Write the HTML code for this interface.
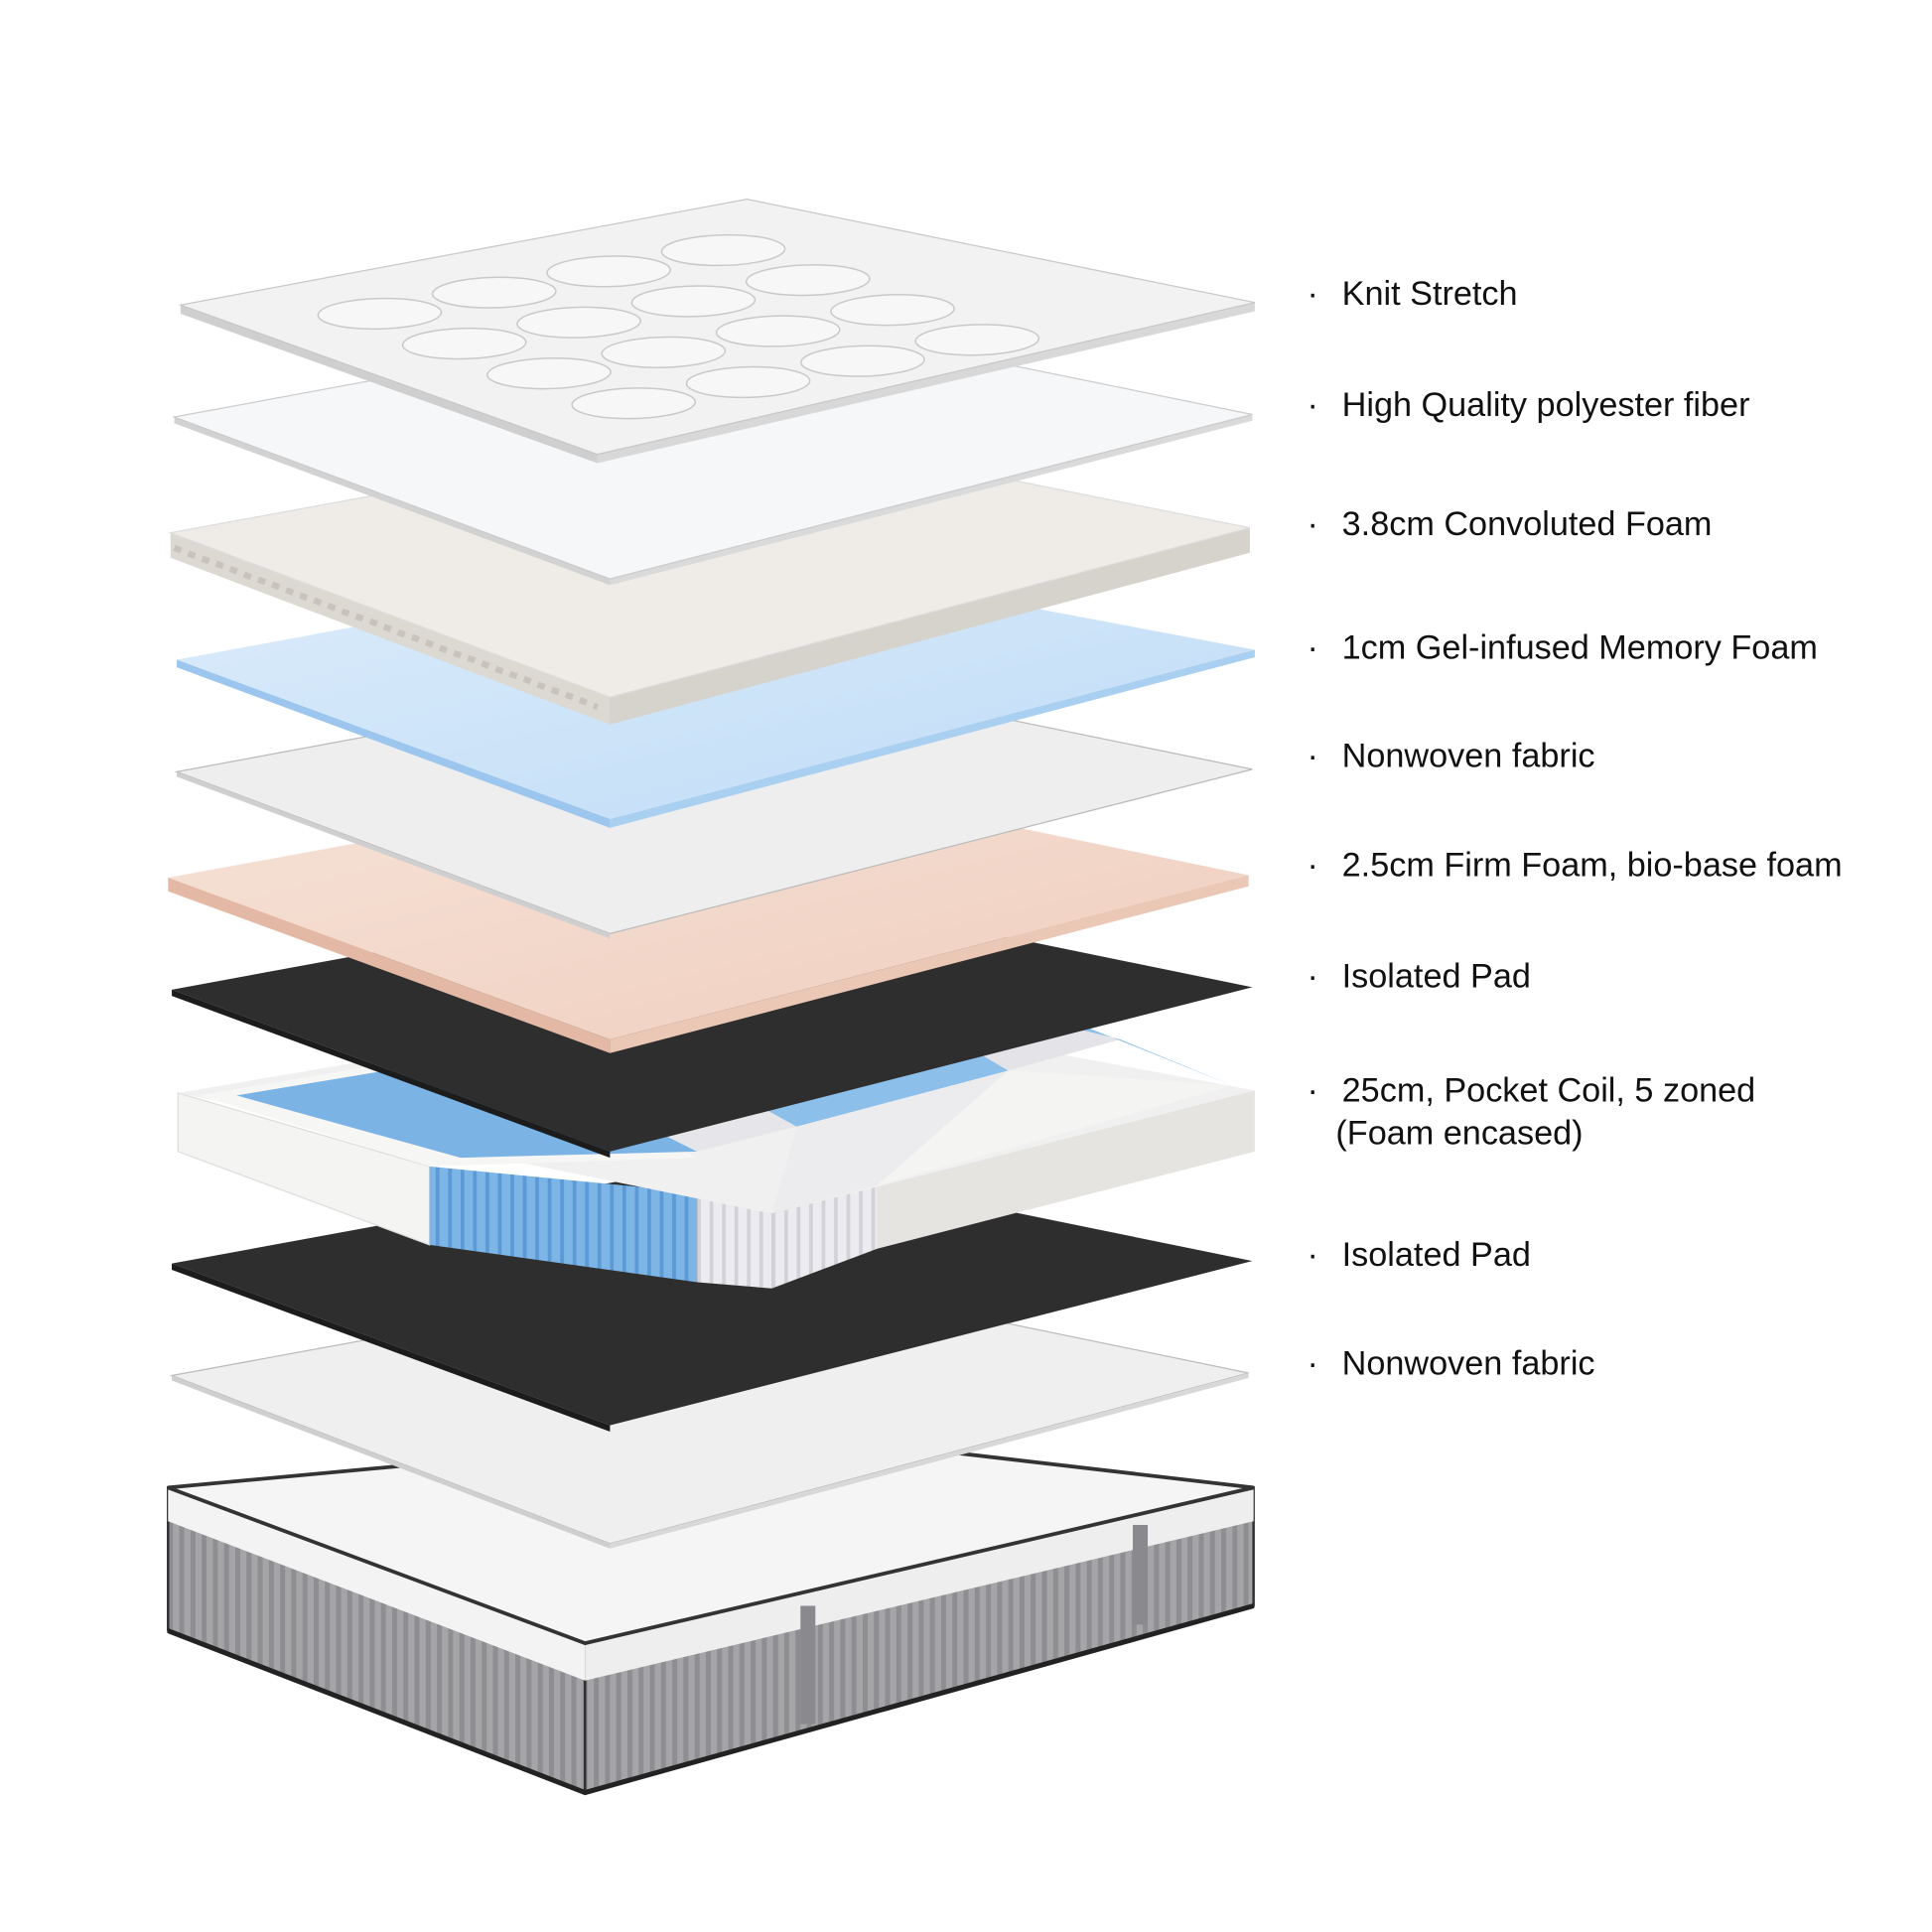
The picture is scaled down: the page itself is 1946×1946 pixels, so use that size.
<!DOCTYPE html>
<html><head><meta charset="utf-8">
<style>
html,body{margin:0;padding:0;background:#fff;}
svg{display:block;}
text{font-family:"Liberation Sans",sans-serif;font-size:27.3px;fill:#111;}
</style></head>
<body>
<svg width="1946" height="1946" viewBox="0 0 1552 1552" xmlns="http://www.w3.org/2000/svg">
<defs>
  <pattern id="stripes" width="9" height="10" patternUnits="userSpaceOnUse">
    <rect width="9" height="10" fill="#a5a5a8"/>
    <rect width="4" height="10" fill="#8e8e92"/>
  </pattern>
  <pattern id="coilb" width="10" height="10" patternUnits="userSpaceOnUse">
    <rect width="10" height="10" fill="#7db5e6"/>
    <rect width="3" height="10" fill="#5c9ad6"/>
  </pattern>
  <pattern id="coilw" width="10" height="10" patternUnits="userSpaceOnUse">
    <rect width="10" height="10" fill="#ececf0"/>
    <rect width="3" height="10" fill="#d2d2d8"/>
  </pattern>
  <linearGradient id="blueg" x1="0" y1="0" x2="1" y2="1">
    <stop offset="0" stop-color="#dcecfb"/><stop offset="1" stop-color="#bfdcf6"/>
  </linearGradient>
  <linearGradient id="firmg" x1="0" y1="0" x2="1" y2="1">
    <stop offset="0" stop-color="#f6e3d8"/><stop offset="1" stop-color="#efcdbd"/>
  </linearGradient>
</defs>

<!-- Base mattress -->
<g>
  <polygon points="135,1195 470,1320 470,1440 135,1310" fill="url(#stripes)" stroke="#333" stroke-width="2"/>
  <polygon points="470,1320 1007,1195 1007,1290 470,1440" fill="url(#stripes)" stroke="#333" stroke-width="2"/>
  <polygon points="135,1195 470,1320 470,1350 135,1222" fill="#f3f3f3"/>
  <polygon points="470,1320 1007,1195 1007,1222 470,1350" fill="#eeeeee"/>
  <polygon points="135,1195 620,1150 1007,1195 470,1320" fill="#f5f5f5" stroke="#333" stroke-width="3"/>
  <rect x="643" y="1290" width="12" height="95" fill="#8a8a8e"/>
  <rect x="910" y="1225" width="12" height="80" fill="#8a8a8e"/>
  <polyline points="135,1310 470,1440 1007,1290" fill="none" stroke="#222" stroke-width="4"/>
</g>

<!-- Layer 10 nonwoven bottom -->
<polygon points="138,1105 600,1020 1003,1103 490,1240" fill="#efefef" stroke="#bbb" stroke-width="1"/>
<polygon points="138,1105 490,1240 490,1244 138,1109" fill="#cfcfcf"/>
<polygon points="490,1240 1003,1103 1003,1107 490,1244" fill="#d8d8d8"/>

<!-- Layer 9 isolated pad -->
<polygon points="138,1015 600,930 1006,1013 490,1145" fill="#2e2e2e"/>
<polygon points="138,1015 490,1145 490,1150 138,1020" fill="#1c1c1c"/>

<!-- Layer 8 coil box: L(143,878) B(600,800) R(1008,876) F(620,975) -->
<g>
  <!-- left face: foam 143-345, then coils -->
  <polygon points="143,878 345,937 345,1000 143,925" fill="#f4f4f2" stroke="#ddd"/>
  <polygon points="345,937 560,958 560,1030 345,1000" fill="url(#coilb)"/>
  <polygon points="560,958 620,975 620,1035 560,1030" fill="url(#coilw)"/>
  <!-- right face: coils 620-705, then foam -->
  <polygon points="620,975 705,952 705,1003 620,1035" fill="url(#coilw)"/>
  <polygon points="705,952 1008,876 1008,925 705,1003" fill="#e6e4e0"/>
  <!-- top face -->
  <polygon points="143,878 600,800 1008,876 620,975" fill="#f0f0f0"/>
  <polygon points="160,880 390,841 560,930 345,937" fill="#f6f6f4"/>
  <polygon points="190,880 400,845 560,925 370,930" fill="#7ab3e4"/>
  <polygon points="400,845 500,828 640,905 560,925" fill="#e6e6ea"/>
  <polygon points="500,828 700,795 810,860 640,905" fill="#8cc0ea"/>
  <polygon points="700,795 790,808 900,835 810,860" fill="#e4e4e8"/>
  <polygon points="790,808 860,820 990,872 900,835" fill="#8cc0ea"/>
  <polygon points="640,905 810,860 705,952 620,975" fill="#ececee"/>
  <polygon points="810,860 990,872 705,952" fill="#f4f4f2"/>
</g>

<!-- Layer 7 isolated pad -->
<polygon points="138,795 600,710 1006,793 490,925" fill="#2e2e2e"/>
<polygon points="138,795 490,925 490,930 138,800" fill="#1c1c1c"/>

<!-- Layer 6 firm foam -->
<polygon points="135,705 600,620 1003,703 490,835" fill="url(#firmg)"/>
<polygon points="135,705 490,835 490,846 135,716" fill="#e3b9a5"/>
<polygon points="490,835 1003,703 1003,712 490,846" fill="#ebc8b6"/>

<!-- Layer 5 nonwoven -->
<polygon points="142,620 600,535 1006,618 490,750" fill="#eeeeee" stroke="#bbb" stroke-width="1"/>
<polygon points="142,620 490,750 490,754 142,624" fill="#cfcfcf"/>

<!-- Layer 4 gel blue -->
<polygon points="142,530 600,445 1008,522 490,658" fill="url(#blueg)"/>
<polygon points="142,530 490,658 490,665 142,536" fill="#9cc6ee"/>
<polygon points="490,658 1008,522 1008,528 490,665" fill="#a9cff1"/>

<!-- Layer 3 convoluted foam -->
<polygon points="137,428 490,560 490,582 137,448" fill="#dcd8d2"/>
<polygon points="490,560 1004,424 1004,444 490,582" fill="#d6d2cc"/>
<polygon points="137,428 600,343 1004,424 490,560" fill="#efece7" stroke="#ddd"/>
<polyline points="140,440 160,448 180,455 200,463 220,470 240,478 260,485 280,493 300,500 320,508 340,515 360,523 380,530 400,538 420,545 440,553 460,560 480,568" fill="none" stroke="#c8c4bd" stroke-width="5" stroke-dasharray="6 6"/>

<!-- Layer 2 fiber -->
<polygon points="140,335 490,465 490,470 140,340" fill="#d2d2d2"/>
<polygon points="490,465 1006,333 1006,338 490,470" fill="#dadada"/>
<polygon points="140,335 600,250 1006,333 490,465" fill="#f6f7f9" stroke="#ccc"/>

<!-- Layer 1 knit top -->
<polygon points="145,245 480,365 480,372 145,252" fill="#cfcfcf"/>
<polygon points="480,365 1008,243 1008,250 480,372" fill="#d8d8d8"/>
<polygon points="145,245 600,160 1008,243 480,365" fill="#f2f2f2" stroke="#c8c8c8"/>
<g transform="matrix(460,-85,340,120,145,245)" fill="#f7f7f7" stroke="#c9c9c9" stroke-width="1.5">
  <ellipse cx="0.2" cy="0.2" rx="0.09" ry="0.08" vector-effect="non-scaling-stroke"/>
  <ellipse cx="0.4" cy="0.2" rx="0.09" ry="0.08" vector-effect="non-scaling-stroke"/>
  <ellipse cx="0.6" cy="0.2" rx="0.09" ry="0.08" vector-effect="non-scaling-stroke"/>
  <ellipse cx="0.8" cy="0.2" rx="0.09" ry="0.08" vector-effect="non-scaling-stroke"/>
  <ellipse cx="0.2" cy="0.4" rx="0.09" ry="0.08" vector-effect="non-scaling-stroke"/>
  <ellipse cx="0.4" cy="0.4" rx="0.09" ry="0.08" vector-effect="non-scaling-stroke"/>
  <ellipse cx="0.6" cy="0.4" rx="0.09" ry="0.08" vector-effect="non-scaling-stroke"/>
  <ellipse cx="0.8" cy="0.4" rx="0.09" ry="0.08" vector-effect="non-scaling-stroke"/>
  <ellipse cx="0.2" cy="0.6" rx="0.09" ry="0.08" vector-effect="non-scaling-stroke"/>
  <ellipse cx="0.4" cy="0.6" rx="0.09" ry="0.08" vector-effect="non-scaling-stroke"/>
  <ellipse cx="0.6" cy="0.6" rx="0.09" ry="0.08" vector-effect="non-scaling-stroke"/>
  <ellipse cx="0.8" cy="0.6" rx="0.09" ry="0.08" vector-effect="non-scaling-stroke"/>
  <ellipse cx="0.2" cy="0.8" rx="0.09" ry="0.08" vector-effect="non-scaling-stroke"/>
  <ellipse cx="0.4" cy="0.8" rx="0.09" ry="0.08" vector-effect="non-scaling-stroke"/>
  <ellipse cx="0.6" cy="0.8" rx="0.09" ry="0.08" vector-effect="non-scaling-stroke"/>
  <ellipse cx="0.8" cy="0.8" rx="0.09" ry="0.08" vector-effect="non-scaling-stroke"/>
</g>

<!-- Labels -->
<g>
  <text x="1050" y="245">·</text><text x="1078" y="245">Knit Stretch</text>
  <text x="1050" y="334">·</text><text x="1078" y="334">High Quality polyester fiber</text>
  <text x="1050" y="430">·</text><text x="1078" y="430">3.8cm Convoluted Foam</text>
  <text x="1050" y="529">·</text><text x="1078" y="529">1cm Gel-infused Memory Foam</text>
  <text x="1050" y="616">·</text><text x="1078" y="616">Nonwoven fabric</text>
  <text x="1050" y="704">·</text><text x="1078" y="704">2.5cm Firm Foam, bio-base foam</text>
  <text x="1050" y="793">·</text><text x="1078" y="793">Isolated Pad</text>
  <text x="1050" y="885">·</text><text x="1078" y="885">25cm, Pocket Coil, 5 zoned</text>
  <text x="1073" y="919">(Foam encased)</text>
  <text x="1050" y="1017">·</text><text x="1078" y="1017">Isolated Pad</text>
  <text x="1050" y="1104">·</text><text x="1078" y="1104">Nonwoven fabric</text>
</g>
</svg>
</body></html>
